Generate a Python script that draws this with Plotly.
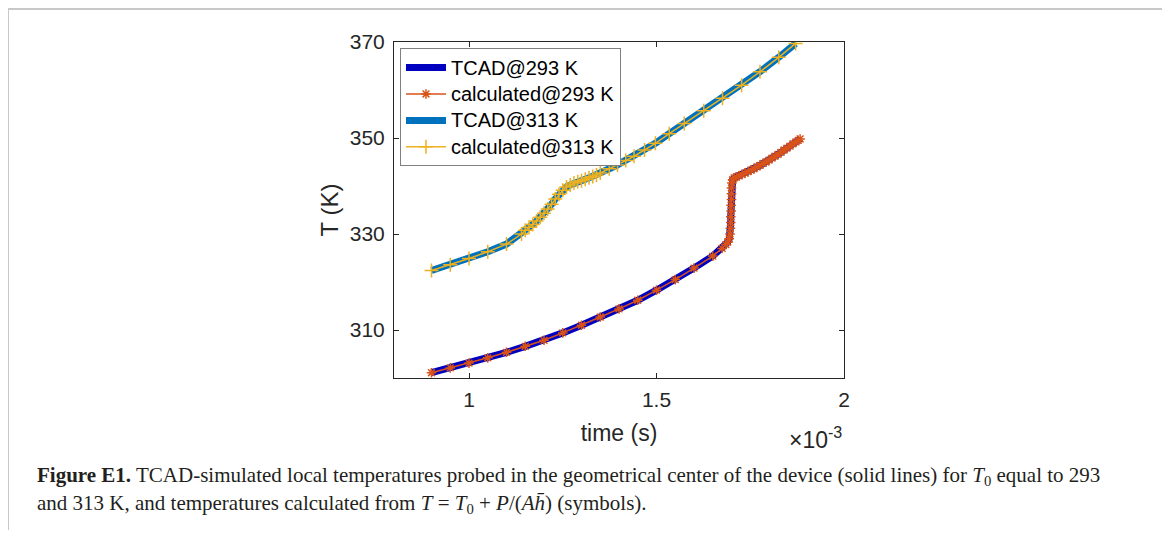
import plotly.graph_objects as go

# ---- data (time in units of 1e-3 s, temperature in K) ----
time_293_ms = [0.90, 0.95, 1.00, 1.05, 1.10, 1.15, 1.20, 1.25, 1.30, 1.35, 1.40, 1.45,
               1.50, 1.55, 1.60, 1.65, 1.675, 1.685, 1.690, 1.694, 1.696, 1.697, 1.698,
               1.698, 1.699, 1.699, 1.700, 1.700, 1.700, 1.701, 1.703, 1.707, 1.713, 1.720,
               1.728, 1.736, 1.744, 1.752, 1.760, 1.768, 1.776, 1.784, 1.792, 1.800, 1.808,
               1.816, 1.824, 1.832, 1.840, 1.848, 1.856, 1.864, 1.872, 1.878, 1.883]
temp_293_K = [301.1, 302.1, 303.1, 304.2, 305.35, 306.6, 307.85, 309.4, 311.0, 312.7, 314.4, 316.2,
              318.3, 320.5, 322.9, 325.4, 327.0, 327.8, 328.3, 329.0, 330.0, 331.2, 332.4,
              333.6, 334.8, 336.0, 337.2, 338.4, 339.6, 340.6, 341.3, 341.7, 341.9, 342.1,
              342.4, 342.7, 343.0, 343.3, 343.6, 344.0, 344.3, 344.7, 345.0, 345.4, 345.8,
              346.2, 346.6, 347.0, 347.5, 347.9, 348.3, 348.8, 349.2, 349.5, 349.8]

time_313_ms = [0.90, 0.95, 1.00, 1.05, 1.10, 1.14, 1.15, 1.16, 1.17, 1.18, 1.19, 1.20,
               1.21, 1.22, 1.23, 1.24, 1.25, 1.26, 1.27, 1.28, 1.29, 1.30, 1.31, 1.32,
               1.33, 1.34, 1.35, 1.374, 1.396, 1.418, 1.44, 1.468, 1.497, 1.534, 1.574,
               1.626, 1.676, 1.727, 1.776, 1.826, 1.871]
temp_313_K = [322.4, 323.6, 324.9, 326.3, 327.9, 330.0, 330.8, 331.4, 332.0, 332.7, 333.5, 334.3,
              335.2, 336.2, 337.3, 338.3, 339.1, 339.8, 340.2, 340.6, 340.9, 341.1, 341.4, 341.7,
              342.0, 342.3, 342.7, 343.6, 344.4, 345.3, 346.2, 347.5, 348.9, 350.9, 353.0,
              355.7, 358.3, 361.0, 363.8, 366.8, 369.7]

series_names = ["TCAD@293 K", "calculated@293 K", "TCAD@313 K", "calculated@313 K"]
x_tick_vals = [1, 1.5, 2]
x_tick_text = ["1", "1.5", "2"]
y_tick_vals = [310, 330, 350, 370]

AX = "#262626"
SANS = "Liberation Sans, Arial"


def leg(name):
    return '<span style="font-size:20px">' + name + '</span>'


fig = go.Figure()
fig.add_trace(go.Scatter(x=time_293_ms, y=temp_293_K, mode="lines", name=leg(series_names[0]),
                         line=dict(color="#0000C0", width=7)))
fig.add_trace(go.Scatter(x=time_293_ms, y=temp_293_K, mode="lines+markers", name=leg(series_names[1]),
                         line=dict(color="#D95319", width=1.5),
                         marker=dict(symbol="asterisk-open", size=8,
                                     line=dict(color="#D95319", width=1.5))))
fig.add_trace(go.Scatter(x=time_313_ms, y=temp_313_K, mode="lines", name=leg(series_names[2]),
                         line=dict(color="#0072BD", width=7)))
fig.add_trace(go.Scatter(x=time_313_ms, y=temp_313_K, mode="lines+markers", name=leg(series_names[3]),
                         line=dict(color="#EDB120", width=1.5),
                         marker=dict(symbol="cross-thin-open", size=10,
                                     line=dict(color="#EDB120", width=1.5))))

axis_common = dict(showline=True, linecolor=AX, linewidth=1, mirror="ticks",
                   ticks="inside", ticklen=5, tickwidth=1, tickcolor=AX,
                   showgrid=False, zeroline=False,
                   tickfont=dict(family=SANS, size=21, color=AX))

fig.update_xaxes(range=[0.8, 2], tickvals=x_tick_vals, ticktext=x_tick_text,
                 ticklabelstandoff=3,
                 title=dict(text="time (s)", standoff=14,
                            font=dict(family=SANS, size=23, color=AX)),
                 **axis_common)
fig.update_yaxes(range=[300, 370], tickvals=y_tick_vals,
                 ticklabelstandoff=4,
                 title=dict(text="T (K)", standoff=4,
                            font=dict(family=SANS, size=24, color=AX)),
                 **axis_common)

fig.add_annotation(text="×10<sup>-3</sup>", xref="paper", yref="paper", x=1.0, y=-0.128,
                   xanchor="right", yanchor="top", showarrow=False,
                   font=dict(family=SANS, size=23, color=AX))

cap_font = dict(family="Liberation Serif, Times New Roman", size=21, color="#231f20")
fig.add_annotation(
    text="<b>Figure E1.</b> TCAD-simulated local temperatures probed in the geometrical center of the device "
         "(solid lines) for <i>T</i><sub>0</sub> equal to 293",
    xref="paper", yref="paper", x=-0.7978, y=-0.248, xanchor="left", yanchor="top",
    showarrow=False, font=cap_font, align="left")
fig.add_annotation(
    text="and 313 K, and temperatures calculated from <i>T</i> = <i>T</i><sub>0</sub> + <i>P</i>/(<i>A</i><i>h\u0304</i>) (symbols).",
    xref="paper", yref="paper", x=-0.7978, y=-0.330, xanchor="left", yanchor="top",
    showarrow=False, font=cap_font, align="left")

# light gray frame around the figure
frame = dict(type="line", xref="paper", yref="paper", line=dict(color="#c8c8c8", width=2))
fig.add_shape(x0=-0.8578, x1=-0.8578, y0=1.0982, y1=-0.6, **frame)
fig.add_shape(x0=1.7111, x1=1.7111, y0=1.0982, y1=-0.6, **frame)
fig.add_shape(x0=-0.8578, x1=1.7111, y0=1.0982, y1=1.0982, **frame)

# page body has an 8px margin, so the figure is smaller than the window
fig.update_layout(
    width=1162, height=522,
    margin=dict(l=386, r=326, t=34, b=152),
    paper_bgcolor="white", plot_bgcolor="white",
    showlegend=True,
    legend=dict(x=0.0133, y=0.981, xanchor="left", yanchor="top",
                bgcolor="white", bordercolor="#808080", borderwidth=1,
                font=dict(family=SANS, size=18, color="black"),
                tracegroupgap=0, itemwidth=40),
)

fig.write_html("out.html")
